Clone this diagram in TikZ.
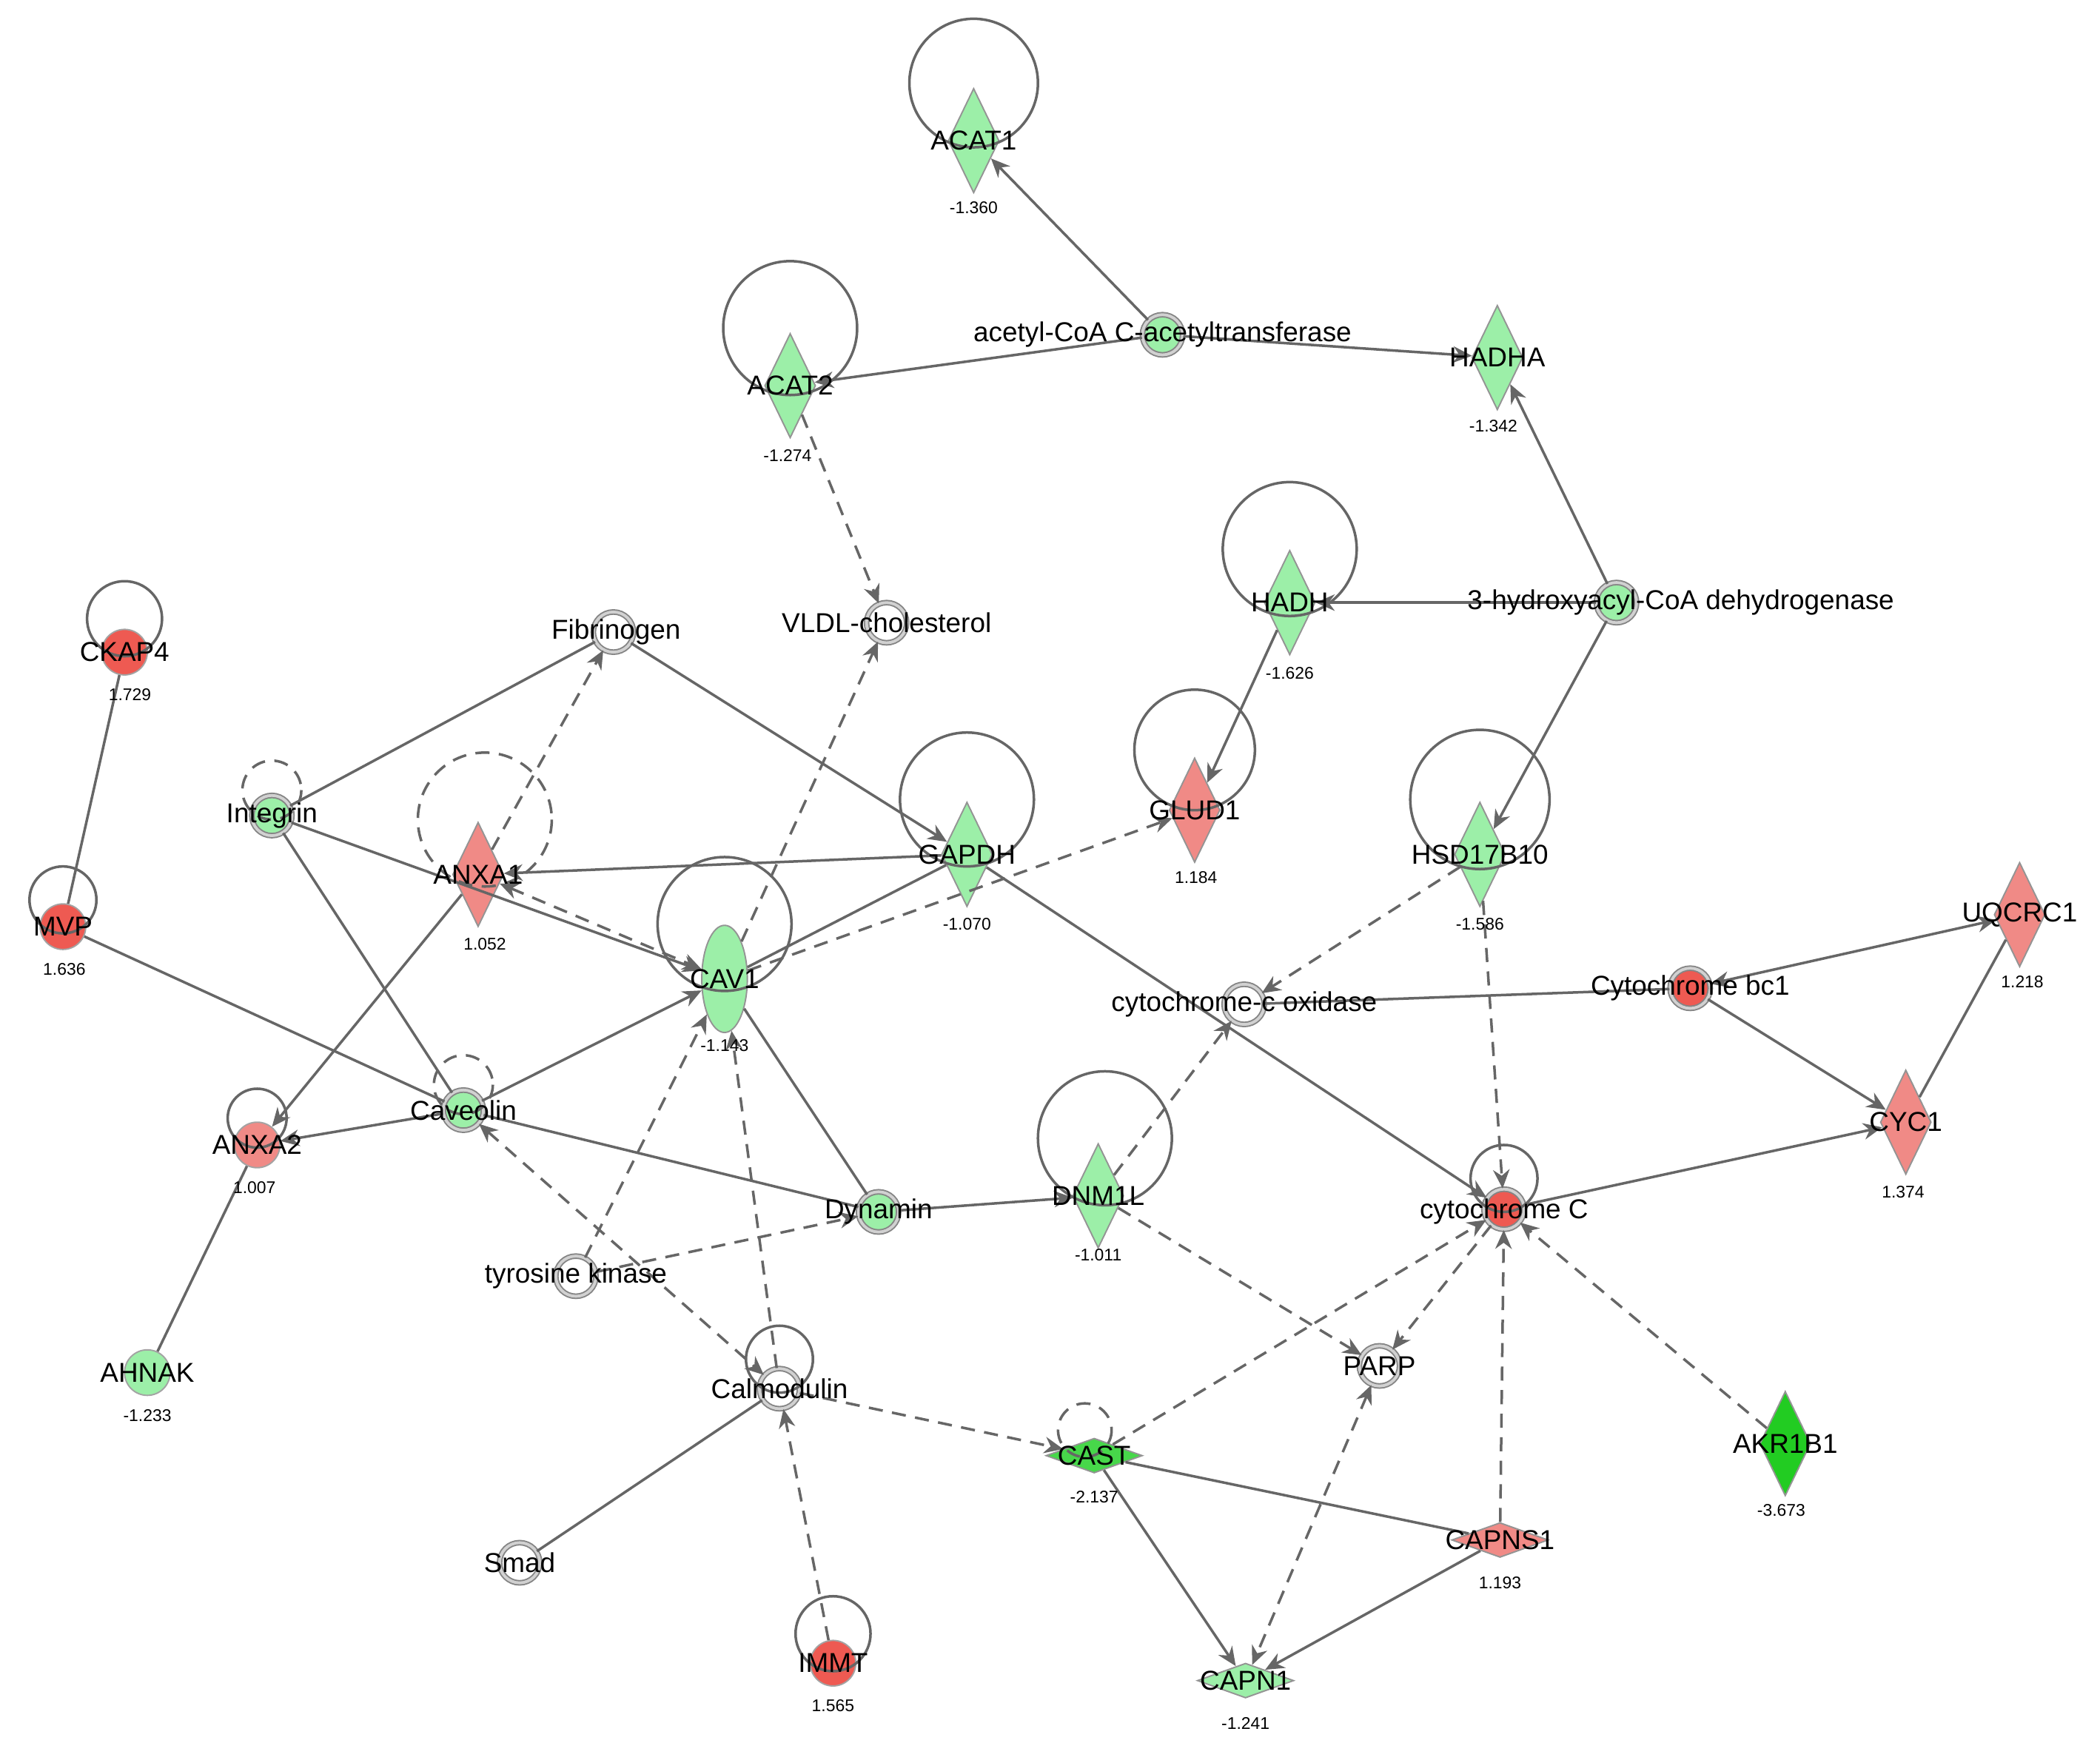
\documentclass[tikz,border=0pt]{standalone}
\usepackage{fontspec}
\setmainfont{Liberation Sans}
\usetikzlibrary{shapes.geometric,arrows.meta}
\definecolor{gr}{HTML}{9CEFA8}
\definecolor{gg}{HTML}{22CC22}
\definecolor{rd}{HTML}{F08A86}
\definecolor{rr}{HTML}{EE5A52}
\definecolor{ln}{HTML}{666666}
\begin{document}
\begin{tikzpicture}[x=0.01cm,y=-0.01cm,
 lbl/.style={font=\fontsize{5.8}{6}\selectfont,text=black},
 val/.style={font=\fontsize{3.6}{4}\selectfont,text=black},
 dia/.style={diamond,draw=ln!70,line width=0.3pt,inner sep=0,minimum width=0.38cm,minimum height=0.78cm,fill=#1},
 hdia/.style={diamond,draw=ln!70,line width=0.3pt,inner sep=0,minimum width=0.72cm,minimum height=0.26cm,fill=#1},
 cir/.style={circle,draw=ln!80,line width=0.3pt,double=ln!30,double distance=0.6pt,inner sep=0,minimum size=0.3cm,fill=#1},
 ell/.style={ellipse,draw=ln!70,line width=0.3pt,inner sep=0,minimum width=0.34cm,minimum height=0.8cm,fill=#1},
 e/.style={draw=ln,line width=0.55pt},
 a/.style={e,-{Stealth[length=4pt,width=3.5pt]}},
 da/.style={a,dashed,dash pattern=on 3pt off 2pt},
 dd/.style={e,dashed,dash pattern=on 3pt off 2pt},
 lp/.style={draw=ln,line width=0.55pt},
 dlp/.style={lp,dashed,dash pattern=on 3pt off 2pt}]
\useasboundingbox (0,0) rectangle (1568,1314);
% nodes
\node[dia=gr] (ACAT1) at (727,105) {};
\node[cir=gr] (ACT) at (868,250) {};
\node[dia=gr] (ACAT2) at (590,288) {};
\node[dia=gr] (HADHA) at (1118,267) {};
\node[dia=gr] (HADH) at (963,450) {};
\node[cir=gr] (HAD) at (1207,450) {};
\node[cir=white] (VLDL) at (662,465) {};
\node[cir=white] (FIB) at (458,472) {};
\node[circle,fill=rr,draw=ln!60,line width=0.3pt,minimum width=0.34cm,inner sep=0] (CKAP4) at (93,487) {};
\node[cir=gr] (INT) at (203,609) {};
\node[dia=rd] (ANXA1) at (357,653) {};
\node[dia=gr] (GAPDH) at (722,638) {};
\node[dia=rd] (GLUD1) at (892,605) {};
\node[dia=gr] (HSD) at (1105,638) {};
\node[dia=rd] (UQCRC1) at (1508,683) {};
\node[circle,fill=rr,draw=ln!60,line width=0.3pt,minimum size=0.34cm,inner sep=0] (MVP) at (47,692) {};
\node[ell=gr] (CAV1) at (541,731) {};
\node[cir=white] (COX) at (929,750) {};
\node[cir=rr] (BC1) at (1262,738) {};
\node[cir=gr] (CAVE) at (346,829) {};
\node[circle,fill=rd,draw=ln!60,line width=0.3pt,minimum size=0.34cm,inner sep=0] (ANXA2) at (192,855) {};
\node[dia=rd] (CYC1) at (1423,838) {};
\node[dia=gr] (DNM1L) at (820,893) {};
\node[cir=gr] (DYN) at (656,905) {};
\node[cir=rr] (CYTC) at (1123,903) {};
\node[cir=white] (TK) at (430,953) {};
\node[circle,fill=gr,draw=ln!60,line width=0.3pt,minimum size=0.34cm,inner sep=0] (AHNAK) at (110,1025) {};
\node[cir=white] (CALM) at (582,1037) {};
\node[cir=white] (PARP) at (1030,1020) {};
\node[dia=gg] (AKR1B1) at (1333,1078) {};
\node[hdia=gg!70!gr] (CAST) at (817,1087) {};
\node[hdia=rd] (CAPNS1) at (1120,1150) {};
\node[cir=white] (SMAD) at (388,1167) {};
\node[circle,fill=rr,draw=ln!60,line width=0.3pt,minimum size=0.34cm,inner sep=0] (IMMT) at (622,1242) {};
\node[hdia=gr] (CAPN1) at (930,1255) {};
% loops
\draw[lp] (727,62) circle (48);
\draw[lp] (590,245) circle (50);
\draw[lp] (963,410) circle (50);
\draw[lp] (892,560) circle (45);
\draw[lp] (1105,597) circle (52);
\draw[lp] (722,597) circle (50);
\draw[lp] (541,690) circle (50);
\draw[dlp] (362,612) circle (50);
\draw[lp] (93,462) circle (28);
\draw[lp] (47,672) circle (25);
\draw[dlp] (203,590) circle (22);
\draw[dlp] (346,810) circle (22);
\draw[lp] (192,835) circle (22);
\draw[lp] (825,850) circle (50);
\draw[lp] (1123,880) circle (25);
\draw[lp] (582,1015) circle (25);
\draw[dlp] (810,1068) circle (20);
\draw[lp] (622,1220) circle (28);
% edges
\draw[a] (ACT) -- (ACAT1);
\draw[a] (ACT) -- (ACAT2);
\draw[a] (ACT) -- (HADHA);
\draw[a] (HAD) -- (HADHA);
\draw[a] (HAD) -- (HADH);
\draw[a] (HAD) -- (HSD);
\draw[da] (ACAT2) -- (VLDL);
\draw[a] (HADH) -- (GLUD1);
\draw[e] (CKAP4) -- (MVP);
\draw[e] (MVP) -- (CAVE);
\draw[e] (FIB) -- (INT);
\draw[a] (FIB) -- (GAPDH);
\draw[da] (ANXA1) -- (FIB);
\draw[a] (INT) -- (CAV1);
\draw[e] (INT) -- (CAVE);
\draw[a] (GAPDH) -- (ANXA1);
\draw[da,{Stealth[length=4pt,width=3.5pt]}-{Stealth[length=4pt,width=3.5pt]}] (ANXA1) -- (CAV1);
\draw[a] (ANXA1) -- (ANXA2);
\draw[a] (CAVE) -- (ANXA2);
\draw[a] (CAVE) -- (CAV1);
\draw[e] (CAVE) -- (DYN);
\draw[da,{Stealth[length=4pt,width=3.5pt]}-{Stealth[length=4pt,width=3.5pt]}] (CAVE) -- (CALM);
\draw[e] (CAV1) -- (GAPDH);
\draw[da] (CAV1) -- (GLUD1);
\draw[da] (CAV1) -- (VLDL);
\draw[e] (CAV1) -- (DYN);
\draw[da] (CALM) -- (CAV1);
\draw[da] (TK) -- (CAV1);
\draw[da] (TK) -- (DYN);
\draw[a] (DYN) -- (DNM1L);
\draw[a] (GAPDH) -- (CYTC);
\draw[da] (HSD) -- (COX);
\draw[da] (HSD) -- (CYTC);
\draw[e] (BC1) -- (COX);
\draw[a,{Stealth[length=4pt,width=3.5pt]}-{Stealth[length=4pt,width=3.5pt]}] (BC1) -- (UQCRC1);
\draw[a] (BC1) -- (CYC1);
\draw[e] (CYC1) -- (UQCRC1);
\draw[a] (CYTC) -- (CYC1);
\draw[da] (DNM1L) -- (COX);
\draw[da] (DNM1L) -- (PARP);
\draw[da] (CYTC) -- (PARP);
\draw[da] (CAST) -- (CYTC);
\draw[da] (CAPNS1) -- (CYTC);
\draw[da] (AKR1B1) -- (CYTC);
\draw[da,{Stealth[length=4pt,width=3.5pt]}-{Stealth[length=4pt,width=3.5pt]}] (PARP) -- (CAPN1);
\draw[e] (CAST) -- (CAPNS1);
\draw[a] (CAST) -- (CAPN1);
\draw[a] (CAPNS1) -- (CAPN1);
\draw[da] (CALM) -- (CAST);
\draw[e] (SMAD) -- (CALM);
\draw[da] (IMMT) -- (CALM);
\draw[e] (ANXA2) -- (AHNAK);
% labels
\node[lbl] (tACAT1) at (727,105) {ACAT1};
\node[val] (vACAT1) at (727,155) {-1.360};
\node[lbl] (tACT) at (868,250) {acetyl-CoA C-acetyltransferase};
\node[lbl] (tACAT2) at (590,288) {ACAT2};
\node[val] (vACAT2) at (588,340) {-1.274};
\node[lbl] (tHADHA) at (1118,267) {HADHA};
\node[val] (vHADHA) at (1115,318) {-1.342};
\node[lbl] (tHADH) at (963,450) {HADH};
\node[val] (vHADH) at (963,503) {-1.626};
\node[lbl] (tHAD) at (1255,450) {3-hydroxyacyl-CoA dehydrogenase};
\node[lbl] (tVLDL) at (662,465) {VLDL-cholesterol};
\node[lbl] (tFIB) at (460,472) {Fibrinogen};
\node[lbl] (tCKAP4) at (93,487) {CKAP4};
\node[val] (vCKAP4) at (97,519) {1.729};
\node[lbl] (tINT) at (203,609) {Integrin};
\node[lbl] (tANXA1) at (357,653) {ANXA1};
\node[val] (vANXA1) at (362,705) {1.052};
\node[lbl] (tGAPDH) at (722,638) {GAPDH};
\node[val] (vGAPDH) at (722,690) {-1.070};
\node[lbl] (tGLUD1) at (892,605) {GLUD1};
\node[val] (vGLUD1) at (893,655) {1.184};
\node[lbl] (tHSD) at (1105,638) {HSD17B10};
\node[val] (vHSD) at (1105,690) {-1.586};
\node[lbl] (tUQ) at (1508,683) {UQCRC1};
\node[val] (vUQ) at (1510,733) {1.218};
\node[lbl] (tMVP) at (47,692) {MVP};
\node[val] (vMVP) at (48,724) {1.636};
\node[lbl] (tCAV1) at (541,731) {CAV1};
\node[val] (vCAV1) at (541,781) {-1.143};
\node[lbl] (tCOX) at (929,750) {cytochrome-c oxidase};
\node[lbl] (tBC1) at (1262,738) {Cytochrome bc1};
\node[lbl] (tCAVE) at (346,829) {Caveolin};
\node[lbl] (tANXA2) at (192,855) {ANXA2};
\node[val] (vANXA2) at (190,887) {1.007};
\node[lbl] (tCYC1) at (1423,838) {CYC1};
\node[val] (vCYC1) at (1421,890) {1.374};
\node[lbl] (tDNM) at (820,893) {DNM1L};
\node[val] (vDNM) at (820,937) {-1.011};
\node[lbl] (tDYN) at (656,905) {Dynamin};
\node[lbl] (tCYTC) at (1123,905) {cytochrome C};
\node[lbl] (tTK) at (430,953) {tyrosine kinase};
\node[lbl] (tAHNAK) at (110,1025) {AHNAK};
\node[val] (vAHNAK) at (110,1057) {-1.233};
\node[lbl] (tCALM) at (582,1037) {Calmodulin};
\node[lbl] (tPARP) at (1030,1020) {PARP};
\node[lbl] (tAKR) at (1333,1078) {AKR1B1};
\node[val] (vAKR) at (1330,1128) {-3.673};
\node[lbl] (tCAST) at (817,1087) {CAST};
\node[val] (vCAST) at (817,1118) {-2.137};
\node[lbl] (tCAPNS1) at (1120,1150) {CAPNS1};
\node[val] (vCAPNS1) at (1120,1182) {1.193};
\node[lbl] (tSMAD) at (388,1167) {Smad};
\node[lbl] (tIMMT) at (622,1242) {IMMT};
\node[val] (vIMMT) at (622,1274) {1.565};
\node[lbl] (tCAPN1) at (930,1255) {CAPN1};
\node[val] (vCAPN1) at (930,1287) {-1.241};
\end{tikzpicture}
\end{document}
